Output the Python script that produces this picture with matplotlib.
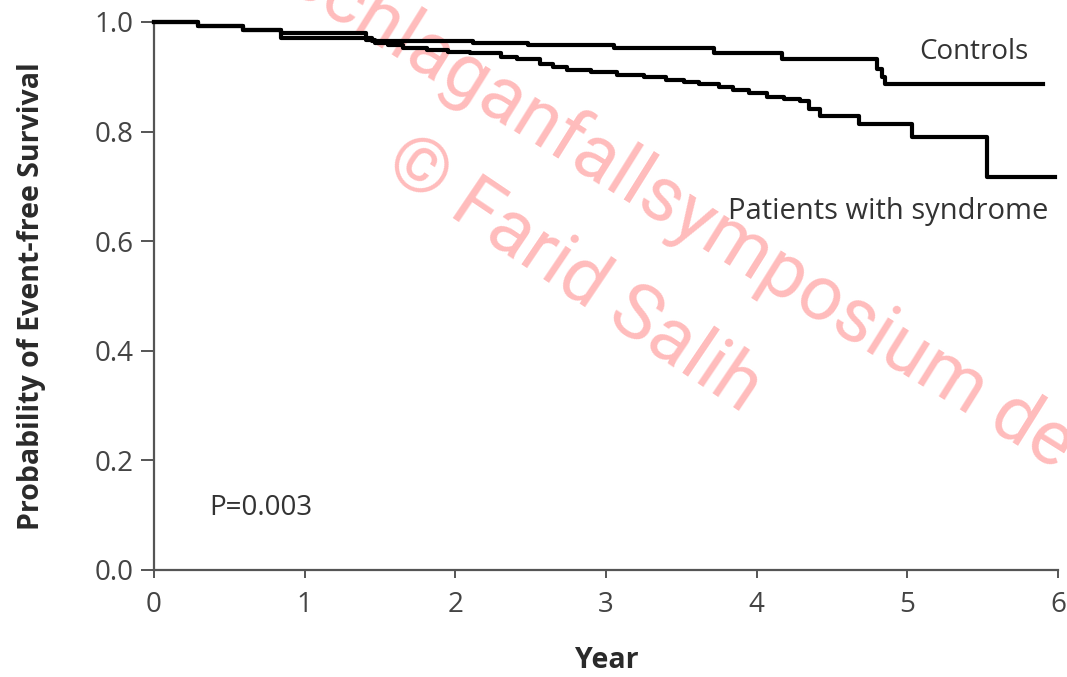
import numpy as np
import matplotlib
matplotlib.use("Agg")
import matplotlib.pyplot as plt

plt.rcParams["font.family"] = ["Open Sans", "DejaVu Sans"]

# Kaplan-Meier step data (years, survival)
controls_t = [0, 0.29, 0.59, 0.84, 1.45, 2.12, 2.48, 3.05, 3.72, 4.17, 4.80, 4.83, 4.85, 5.90]
controls_s = [1.0, 0.992, 0.985, 0.970, 0.965, 0.962, 0.958, 0.953, 0.943, 0.932, 0.915, 0.900, 0.887, 0.887]

patients_t = [0, 0.29, 0.59, 0.84, 1.41, 1.47, 1.55, 1.65, 1.81, 1.95, 2.10, 2.18, 2.30, 2.41,
              2.56, 2.65, 2.74, 2.90, 3.07, 3.25, 3.40, 3.52, 3.62, 3.75, 3.84, 3.95, 4.07,
              4.18, 4.29, 4.35, 4.42, 4.68, 5.03, 5.53, 5.98]
patients_s = [1.0, 0.992, 0.985, 0.980, 0.968, 0.962, 0.958, 0.953, 0.949, 0.946, 0.944, 0.943,
              0.937, 0.933, 0.924, 0.918, 0.912, 0.908, 0.904, 0.900, 0.895, 0.890, 0.886,
              0.881, 0.876, 0.870, 0.864, 0.860, 0.856, 0.842, 0.828, 0.814, 0.790, 0.717, 0.717]

x_ticks = [0, 1, 2, 3, 4, 5, 6]
y_ticks = [0.0, 0.2, 0.4, 0.6, 0.8, 1.0]
y_labels = ["0.0", "0.2", "0.4", "0.6", "0.8", "1.0"]

W, H = 1067, 677
fig = plt.figure(figsize=(W / 100, H / 100), dpi=100)
ax = fig.add_axes([154 / W, 107 / H, 904 / W, 548 / H])

ax.plot(controls_t, controls_s, drawstyle="steps-post", color="black", lw=3,
        clip_on=False, zorder=3)
ax.plot(patients_t, patients_s, drawstyle="steps-post", color="black", lw=3,
        clip_on=False, zorder=3)

ax.set_xlim(0, 6)
ax.set_ylim(0, 1.0)
ax.set_xticks(x_ticks)
ax.set_xticklabels([str(v) for v in x_ticks])
ax.set_yticks(y_ticks)
ax.set_yticklabels(y_labels)

for s in ["top", "right"]:
    ax.spines[s].set_visible(False)
for s in ["left", "bottom"]:
    ax.spines[s].set_color("#555555")
    ax.spines[s].set_linewidth(1.6)

ax.tick_params(axis="y", direction="out", length=9.5, width=1.4, pad=5,
               labelsize=20, colors="#555555", labelcolor="#444444")
ax.tick_params(axis="x", direction="out", length=6, width=1.4, pad=9,
               labelsize=20, colors="#555555", labelcolor="#444444")

ax.text(5.44, 0.945, "Controls", ha="center", va="center", fontsize=20, color="#333333")
ax.text(4.87, 0.655, "Patients with syndrome", ha="center", va="center", fontsize=21,
        color="#333333")
ax.text(0.37, 0.113, "P=0.003", ha="left", va="center", fontsize=20, color="#333333")

fig.text(32 / W, 1 - 296 / H, "Probability of Event-free Survival", rotation=90,
         ha="center", va="center", fontsize=20.5, fontweight="bold", color="#2a2a2a")
fig.text(607 / W, 1 - 660 / H, "Year", ha="center", va="center", fontsize=20.5,
         fontweight="bold", color="#2a2a2a")

# watermark
wm = dict(ha="center", va="center_baseline", rotation_mode="anchor", color="#ffbcbc",
          family=["Roboto", "DejaVu Sans"], transform=fig.transFigure, zorder=1, clip_on=False)
ax.text(683 / W, 1 - 202 / H, "Schlaganfallsymposium de", rotation=-32, fontsize=55, **wm)
ax.text(578 / W, 1 - 268 / H, "\u00a9 Farid Salih", rotation=-34, fontsize=55, **wm)

fig.savefig("out.png", dpi=100)
